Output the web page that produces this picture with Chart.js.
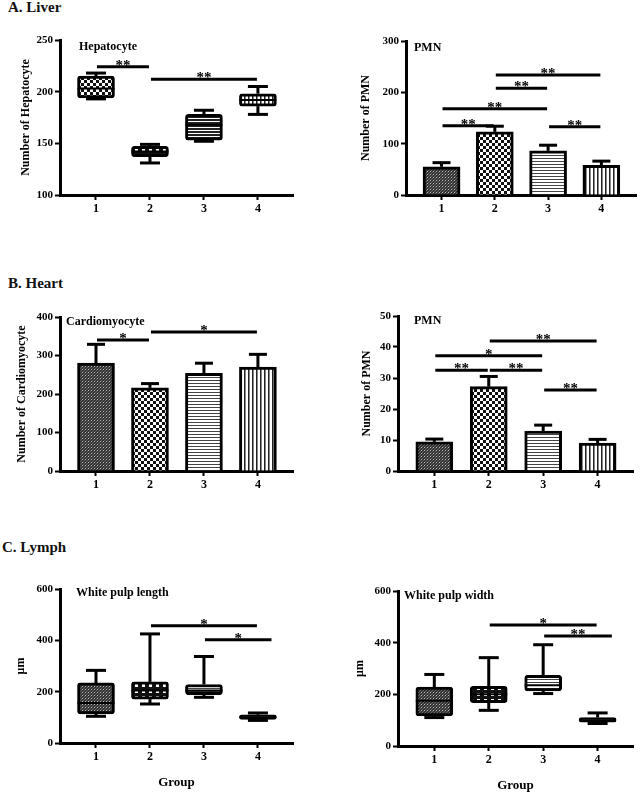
<!DOCTYPE html>
<html>
<head>
<meta charset="utf-8">
<script src="https://cdn.jsdelivr.net/npm/chart.js@4.4.1/dist/chart.umd.min.js"></script>
<style>
  html, body { margin: 0; padding: 0; background: #fff; overflow: hidden; }
  body { width: 642px; height: 794px; position: relative; font-family: 'Liberation Serif', 'Times New Roman', serif; }
  .sec { position: absolute; font-weight: bold; font-size: 15px; color: #111; white-space: nowrap; }
  canvas { position: absolute; }
</style>
</head>
<body>
<div class="sec" style="left:8px;top:-1px">A. Liver</div>
<div class="sec" style="left:8px;top:275px">B. Heart</div>
<div class="sec" style="left:2px;top:539px">C. Lymph</div>

<canvas id="liverHep" width="321" height="210" style="left:0px;top:20px"></canvas>
<canvas id="liverPmn" width="321" height="210" style="left:321px;top:20px"></canvas>
<canvas id="heartCardio" width="321" height="210" style="left:0px;top:296px"></canvas>
<canvas id="heartPmn" width="321" height="210" style="left:321px;top:296px"></canvas>
<canvas id="lymphLen" width="321" height="230" style="left:0px;top:568px"></canvas>
<canvas id="lymphWid" width="321" height="230" style="left:321px;top:571px"></canvas>

<script>
// groups on the x axis
const groups = [1, 2, 3, 4];
const groupLabels = ['1', '2', '3', '4'];

// A. Liver - hepatocyte (box plot)
const hepMin = [193, 131, 152, 178];
const hepQ1  = [194, 137, 153, 186];
const hepMed = [203, 142, 168, 192];
const hepQ3  = [215, 147, 178, 198];
const hepMax = [218, 149, 182, 205];
const hepYTicks = [100, 150, 200, 250];
const hepSig = [[1, 2, 224, '**'], [2, 4, 212, '**']];

// A. Liver - PMN (mean + SEM)
const liverPmnMean = [55, 123, 86, 58];
const liverPmnSem  = [8, 11, 11, 8];
const liverPmnYTicks = [0, 100, 200, 300];
const liverPmnSig = [[2, 4, 234, '**'], [2, 3, 208, '**'], [1, 3, 168, '**'], [1, 2, 135, '**'], [3, 4, 133, '**']];

// B. Heart - cardiomyocyte
const cardioMean = [280, 216, 254, 270];
const cardioSem  = [49, 11, 26, 33];
const cardioYTicks = [0, 100, 200, 300, 400];
const cardioSig = [[1, 2, 340, '*'], [2, 4, 361, '*']];

// B. Heart - PMN
const heartPmnMean = [9.4, 27.2, 12.9, 9.0];
const heartPmnSem  = [0.9, 3.3, 1.9, 1.2];
const heartPmnYTicks = [0, 10, 20, 30, 40, 50];
const heartPmnSig = [[2, 4, 41.9, '**'], [1, 3, 37.2, '*'], [1, 2, 32.5, '**'], [2, 3, 32.5, '**'], [3, 4, 26.1, '**']];

// C. Lymph - white pulp length (box plot)
const lenMin = [104, 152, 178, 88];
const lenQ1  = [113, 171, 188, 92];
const lenMed = [156, 205, 205, 100];
const lenQ3  = [234, 238, 228, 110];
const lenMax = [283, 425, 337, 117];
const lenSig = [[2, 4, 457, '*'], [3, 4.27, 402, '*']];

// C. Lymph - white pulp width (box plot)
const widMin = [110, 138, 203, 87];
const widQ1  = [116, 168, 213, 92];
const widMed = [175, 200, 235, 100];
const widQ3  = [228, 231, 274, 110];
const widMax = [277, 342, 392, 128];
const widSig = [[2, 4, 468, '*'], [3, 4.28, 426, '**']];
const lymphYTicks = [0, 200, 400, 600];

Chart.defaults.font.family = "'Liberation Serif', 'Times New Roman', serif";
Chart.defaults.font.weight = 'bold';
Chart.defaults.color = '#000';

// hatch fills
function makeFill(kind) {
  if (kind === 'solid') return '#111';
  const c = document.createElement('canvas');
  const g = c.getContext('2d');
  if (kind === 'fine') {
    c.width = 3; c.height = 3;
    g.fillStyle = '#333'; g.fillRect(0, 0, 3, 3);
    g.fillStyle = '#bbb'; g.fillRect(1, 1, 1, 1);
    g.fillStyle = '#666'; g.fillRect(0, 2, 1, 1); g.fillRect(2, 0, 1, 1);
  } else if (kind === 'checker') {
    c.width = 6; c.height = 6;
    g.fillStyle = '#fff'; g.fillRect(0, 0, 6, 6);
    g.fillStyle = '#111'; g.fillRect(0, 0, 3, 3); g.fillRect(3, 3, 3, 3);
  } else if (kind === 'dots') {
    c.width = 7; c.height = 6;
    g.fillStyle = '#111'; g.fillRect(0, 0, 7, 6);
    g.fillStyle = '#fff'; g.fillRect(2, 2, 3, 3);
  } else if (kind === 'hlines') {
    c.width = 1; c.height = 3;
    g.fillStyle = '#fff'; g.fillRect(0, 0, 1, 3);
    g.fillStyle = '#444'; g.fillRect(0, 0, 1, 1);
  } else if (kind === 'hdense') {
    c.width = 1; c.height = 3;
    g.fillStyle = '#fff'; g.fillRect(0, 0, 1, 3);
    g.fillStyle = '#222'; g.fillRect(0, 0, 1, 2);
  } else if (kind === 'vlines') {
    c.width = 4; c.height = 1;
    g.fillStyle = '#fff'; g.fillRect(0, 0, 4, 1);
    g.fillStyle = '#222'; g.fillRect(0, 0, 1, 1);
    g.fillStyle = '#888'; g.fillRect(1, 0, 1, 1);
  }
  return g.createPattern(c, 'repeat');
}

// whiskers, error bars, significance bars and panel titles
function extras(p) {
  return {
    id: 'extras',
    afterDatasetsDraw(chart) {
      const { ctx, chartArea: a, scales: { x, y } } = chart;
      const bars = chart.getDatasetMeta(0).data;
      const line = (x1, y1, x2, y2) => { ctx.beginPath(); ctx.moveTo(x1, y1); ctx.lineTo(x2, y2); ctx.stroke(); };
      ctx.save();
      ctx.strokeStyle = '#000';
      ctx.fillStyle = '#000';
      ctx.lineWidth = 3;
      groups.forEach((g, i) => {
        const cx = x.getPixelForValue(g);
        if (p.box) {
          const b = p.box;
          const top = y.getPixelForValue(b.max[i]);
          const q3 = y.getPixelForValue(b.q3[i]);
          const q1 = y.getPixelForValue(b.q1[i]);
          const bot = y.getPixelForValue(b.min[i]);
          line(cx, q3, cx, top); line(cx - 10, top, cx + 10, top);
          line(cx, q1, cx, bot); line(cx - 10, bot, cx + 10, bot);
          const hw = bars[i].width / 2;
          ctx.lineWidth = 2;
          const m = y.getPixelForValue(b.med[i]);
          line(cx - hw, m, cx + hw, m);
          ctx.lineWidth = 3;
        } else {
          const top = y.getPixelForValue(p.mean[i] + p.sem[i]);
          line(cx, bars[i].y, cx, top);
          line(cx - 9, top, cx + 9, top);
        }
      });
      ctx.font = "bold 15px 'Liberation Serif', serif";
      ctx.textAlign = 'center';
      ctx.textBaseline = 'alphabetic';
      p.sig.forEach(([from, to, v, label]) => {
        const x1 = x.getPixelForValue(from) + 1;
        const x2 = x.getPixelForValue(to) - 1;
        const yy = y.getPixelForValue(v);
        line(x1, yy, x2, yy);
        ctx.fillText(label, (x1 + x2) / 2, yy + 3);
      });
      ctx.font = "bold 12px 'Liberation Serif', serif";
      ctx.textAlign = 'left';
      ctx.textBaseline = 'middle';
      ctx.fillText(p.title, a.left + p.titleDx, a.top + p.titleDy);
      ctx.restore();
    }
  };
}

function panel(id, p) {
  const data = p.box
    ? groups.map((g, i) => ({ x: g, y: [p.box.q1[i], p.box.q3[i]] }))
    : groups.map((g, i) => ({ x: g, y: p.mean[i] }));
  new Chart(document.getElementById(id), {
    type: 'bar',
    data: {
      datasets: [{
        data: data,
        backgroundColor: p.fills.map(makeFill),
        borderColor: '#000',
        borderWidth: 3,
        borderSkipped: p.box ? false : 'start',
        borderRadius: p.box ? 3 : 0,
        barThickness: 37
      }]
    },
    options: {
      responsive: false,
      animation: false,
      layout: { padding: { top: p.padTop, right: p.padRight, left: 0, bottom: 0 } },
      plugins: { legend: { display: false }, tooltip: { enabled: false } },
      scales: {
        x: {
          type: 'linear',
          min: 0.333,
          max: 4.65,
          offset: false,
          afterBuildTicks: s => { s.ticks = groups.map(v => ({ value: v })); },
          afterFit: s => { s.height = p.xH; },
          grid: { drawOnChartArea: false, offset: false, tickLength: 5, tickWidth: 2, tickColor: '#000' },
          border: { color: '#000', width: 3 },
          ticks: { font: { size: 12, weight: 'bold' }, padding: 2, callback: v => groupLabels[v - 1] },
          title: { display: !!p.xTitle, text: p.xTitle || '', font: { size: 13, weight: 'bold' }, padding: { top: 0, bottom: 8 } }
        },
        y: {
          min: p.yTicks[0],
          max: p.yTicks[p.yTicks.length - 1],
          afterBuildTicks: s => { s.ticks = p.yTicks.map(v => ({ value: v })); },
          afterFit: s => { s.width = p.yW; },
          grid: { drawOnChartArea: false, tickLength: 5, tickWidth: 2, tickColor: '#000' },
          border: { color: '#000', width: 3 },
          ticks: { font: { size: 11, weight: 'bold' }, padding: 2 },
          title: { display: true, text: p.yTitle, font: { size: 12, weight: 'bold' }, padding: { top: p.yTitlePad, bottom: 0 } }
        }
      }
    },
    plugins: [extras(p)]
  });
}

panel('liverHep', {
  box: { min: hepMin, q1: hepQ1, med: hepMed, q3: hepQ3, max: hepMax },
  fills: ['checker', 'dots', 'hdense', 'vlines'],
  yTicks: hepYTicks, yTitle: 'Number of Hepatocyte', title: 'Hepatocyte', sig: hepSig,
  padTop: 20, padRight: 28, yW: 60, xH: 35, yTitlePad: 19, titleDx: 19, titleDy: 7
});
panel('liverPmn', {
  mean: liverPmnMean, sem: liverPmnSem,
  fills: ['fine', 'checker', 'hlines', 'vlines'],
  yTicks: liverPmnYTicks, yTitle: 'Number of PMN', title: 'PMN', sig: liverPmnSig,
  padTop: 21, padRight: 6, yW: 85, xH: 35, yTitlePad: 38, titleDx: 8, titleDy: 7
});
panel('heartCardio', {
  mean: cardioMean, sem: cardioSem,
  fills: ['fine', 'checker', 'hlines', 'vlines'],
  yTicks: cardioYTicks, yTitle: 'Number of Cardiomyocyte', title: 'Cardiomyocyte', sig: cardioSig,
  padTop: 21, padRight: 28, yW: 60, xH: 35, yTitlePad: 15, titleDx: 6, titleDy: 5
});
panel('heartPmn', {
  mean: heartPmnMean, sem: heartPmnSem,
  fills: ['fine', 'checker', 'hlines', 'vlines'],
  yTicks: heartPmnYTicks, yTitle: 'Number of PMN', title: 'PMN', sig: heartPmnSig,
  padTop: 20, padRight: 9, yW: 77, xH: 35, yTitlePad: 39, titleDx: 16, titleDy: 5
});
panel('lymphLen', {
  box: { min: lenMin, q1: lenQ1, med: lenMed, q3: lenQ3, max: lenMax },
  fills: ['fine', 'dots', 'hlines', 'solid'],
  yTicks: lymphYTicks, yTitle: 'μm', title: 'White pulp length', sig: lenSig, xTitle: 'Group',
  padTop: 21, padRight: 28, yW: 60, xH: 55, yTitlePad: 14, titleDx: 16, titleDy: 4
});
panel('lymphWid', {
  box: { min: widMin, q1: widQ1, med: widMed, q3: widQ3, max: widMax },
  fills: ['fine', 'dots', 'hlines', 'solid'],
  yTicks: lymphYTicks, yTitle: 'μm', title: 'White pulp width', sig: widSig, xTitle: 'Group',
  padTop: 20, padRight: 9, yW: 77, xH: 55, yTitlePad: 32, titleDx: 6, titleDy: 5
});
</script>
</body>
</html>
